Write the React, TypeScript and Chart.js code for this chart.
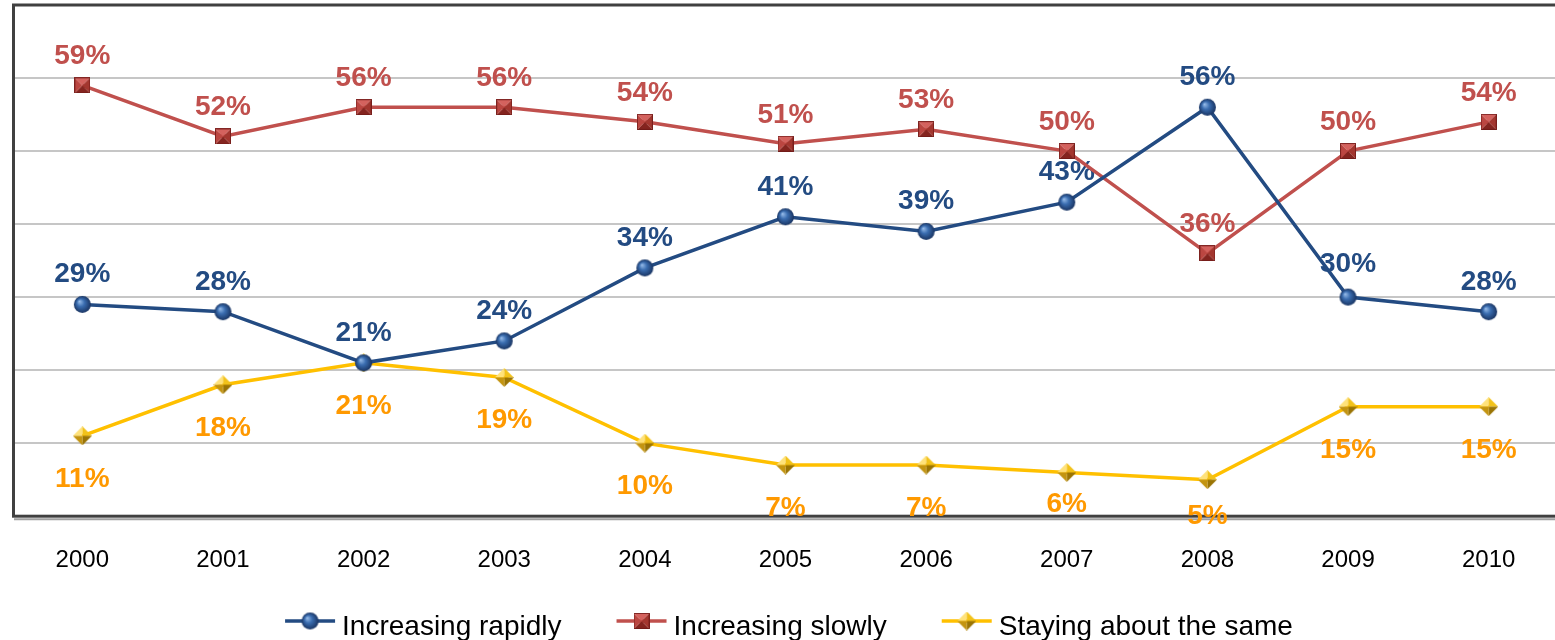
import React, { useEffect, useRef } from "react";
import { Chart, registerables } from "chart.js";

Chart.register(...registerables);

// ---- data ----
const years = ["2000", "2001", "2002", "2003", "2004", "2005", "2006", "2007", "2008", "2009", "2010"];
const increasingRapidly = [29, 28, 21, 24, 34, 41, 39, 43, 56, 30, 28];
const increasingSlowly = [59, 52, 56, 56, 54, 51, 53, 50, 36, 50, 54];
const stayingSame = [11, 18, 21, 19, 10, 7, 7, 6, 5, 15, 15];
const seriesNames = ["Increasing rapidly", "Increasing slowly", "Staying about the same"];
const yMin = 0;
const yMax = 70;
const yStep = 10;

// ---- styling ----
const FONT = '"Liberation Sans", Arial, Helvetica, sans-serif';
const lineColors = ["#234b82", "#c0504d", "#ffc000"];
const labelColors = ["#234b82", "#c0504d", "#ff9900"];
// baseline offset of the value label from its point, per series
const labelBaseline = [-22, -21, 51];
// small per-point adjustments of label baselines
const labelNudge: Record<number, number>[] = [{ 9: -3 }, {}, { 7: -11, 8: -7 }];

const CANVAS_W = 1570;
const CANVAS_H = 640;

function makeSphere(d: number): HTMLCanvasElement {
  const c = document.createElement("canvas");
  const s = d + 2;
  c.width = s;
  c.height = s;
  const g = c.getContext("2d")!;
  const m = s / 2;
  const grad = g.createRadialGradient(m - d * 0.18, m - d * 0.18, 0, m, m, d / 2);
  grad.addColorStop(0, "#9cc0ec");
  grad.addColorStop(0.45, "#3a6db0");
  grad.addColorStop(1, "#193462");
  g.fillStyle = grad;
  g.beginPath();
  g.arc(m, m, d / 2, 0, Math.PI * 2);
  g.fill();
  return c;
}

function makePyramidSquare(d: number): HTMLCanvasElement {
  const c = document.createElement("canvas");
  c.width = d;
  c.height = d;
  const g = c.getContext("2d")!;
  const m = d / 2;
  const facets: [number, number, number, number, string][] = [
    [0, 0, d, 0, "#d4625e"],
    [d, 0, d, d, "#a3362f"],
    [d, d, 0, d, "#84241f"],
    [0, d, 0, 0, "#bb4641"],
  ];
  facets.forEach(([x1, y1, x2, y2, col]) => {
    g.fillStyle = col;
    g.beginPath();
    g.moveTo(x1, y1);
    g.lineTo(x2, y2);
    g.lineTo(m, m);
    g.closePath();
    g.fill();
  });
  g.strokeStyle = "rgba(110,25,22,0.8)";
  g.lineWidth = 1;
  g.strokeRect(0.5, 0.5, d - 1, d - 1);
  return c;
}

function makePyramidDiamond(d: number): HTMLCanvasElement {
  const c = document.createElement("canvas");
  c.width = d;
  c.height = d;
  const g = c.getContext("2d")!;
  const m = d / 2;
  const top: [number, number] = [m, 0];
  const right: [number, number] = [d, m];
  const bottom: [number, number] = [m, d];
  const left: [number, number] = [0, m];
  const facets: [[number, number], [number, number], string][] = [
    [left, top, "#ffe27a"],
    [top, right, "#f2c21a"],
    [right, bottom, "#9a7404"],
    [bottom, left, "#c39410"],
  ];
  facets.forEach(([a, b, col]) => {
    g.fillStyle = col;
    g.beginPath();
    g.moveTo(a[0], a[1]);
    g.lineTo(b[0], b[1]);
    g.lineTo(m, m);
    g.closePath();
    g.fill();
  });
  return c;
}

export default function App() {
  const canvasRef = useRef<HTMLCanvasElement | null>(null);

  useEffect(() => {
    const canvas = canvasRef.current;
    if (!canvas) return;

    const markers = [makeSphere(17), makePyramidSquare(16), makePyramidDiamond(19)];

    // plot frame and value labels go under the lines
    const framePlugin = {
      id: "frameAndLabels",
      beforeDatasetsDraw(chart: any) {
        const ctx: CanvasRenderingContext2D = chart.ctx;
        const { left, top, right, bottom } = chart.chartArea;
        ctx.save();
        // shadow under the frame
        ctx.strokeStyle = "#a0a0a0";
        ctx.lineWidth = 2;
        ctx.beginPath();
        ctx.moveTo(left + 2, bottom + 3);
        ctx.lineTo(right + 2, bottom + 3);
        ctx.stroke();
        ctx.strokeStyle = "#404040";
        ctx.lineWidth = 3;
        ctx.strokeRect(left + 1.5, top, right - left, bottom - top);

        ctx.font = `bold 28px ${FONT}`;
        ctx.textAlign = "center";
        ctx.textBaseline = "alphabetic";
        chart.data.datasets.forEach((ds: any, i: number) => {
          const meta = chart.getDatasetMeta(i);
          ctx.fillStyle = labelColors[i];
          meta.data.forEach((pt: any, j: number) => {
            const dy = labelBaseline[i] + (labelNudge[i][j] ?? 0);
            ctx.fillText(`${ds.data[j]}%`, pt.x, pt.y + dy);
          });
        });
        ctx.restore();
      },
    };

    const legendPlugin = {
      id: "lineLegend",
      afterDraw(chart: any) {
        const ctx: CanvasRenderingContext2D = chart.ctx;
        ctx.save();
        ctx.font = `28px ${FONT}`;
        const symW = 50;
        const gapText = 7;
        const gapItem = 55;
        const widths = seriesNames.map((n) => symW + gapText + ctx.measureText(n).width);
        const total = widths.reduce((a, b) => a + b, 0) + gapItem * (seriesNames.length - 1);
        let x = 789 - total / 2;
        const lineY = 621;
        const textY = 635;
        seriesNames.forEach((name, i) => {
          ctx.strokeStyle = lineColors[i];
          ctx.lineWidth = 3.5;
          ctx.beginPath();
          ctx.moveTo(x, lineY);
          ctx.lineTo(x + symW, lineY);
          ctx.stroke();
          const mk = markers[i];
          ctx.drawImage(mk, x + symW / 2 - mk.width / 2, lineY - mk.height / 2);
          ctx.fillStyle = "#000000";
          ctx.textAlign = "left";
          ctx.textBaseline = "alphabetic";
          ctx.fillText(name, x + symW + gapText, textY);
          x += widths[i] + gapItem;
        });
        ctx.restore();
      },
    };

    const seriesData = [increasingRapidly, increasingSlowly, stayingSame];

    const chart = new Chart(canvas, {
      type: "line",
      data: {
        labels: years,
        datasets: seriesData.map((values, i) => ({
          label: seriesNames[i],
          data: values,
          borderColor: lineColors[i],
          backgroundColor: lineColors[i],
          borderWidth: 3.5,
          tension: 0,
          fill: false,
          pointStyle: markers[i] as any,
          pointRadius: 9,
          pointHoverRadius: 9,
        })),
      },
      options: {
        responsive: false,
        animation: false,
        devicePixelRatio: 1,
        layout: {
          autoPadding: false,
          padding: { left: 12, top: 5, right: CANVAS_W - 1559, bottom: 35 },
        },
        plugins: {
          legend: { display: false },
          tooltip: { enabled: false },
        },
        scales: {
          x: {
            offset: true,
            grid: { display: false, drawTicks: false },
            border: { display: false },
            ticks: {
              color: "#000000",
              font: { family: FONT, size: 24 },
              padding: 30,
              maxRotation: 0,
              autoSkip: false,
            },
          },
          y: {
            min: yMin,
            max: yMax,
            grid: { color: "#c6c6c6", lineWidth: 2, drawTicks: false },
            border: { display: false },
            ticks: { display: false, stepSize: yStep },
          },
        },
      },
      plugins: [framePlugin, legendPlugin],
    });

    return () => chart.destroy();
  }, []);

  return (
    <div
      style={{
        position: "fixed",
        left: 0,
        top: 0,
        width: 1555,
        height: 640,
        overflow: "hidden",
        background: "#ffffff",
      }}
    >
      <canvas ref={canvasRef} width={CANVAS_W} height={CANVAS_H} style={{ display: "block" }} />
    </div>
  );
}
